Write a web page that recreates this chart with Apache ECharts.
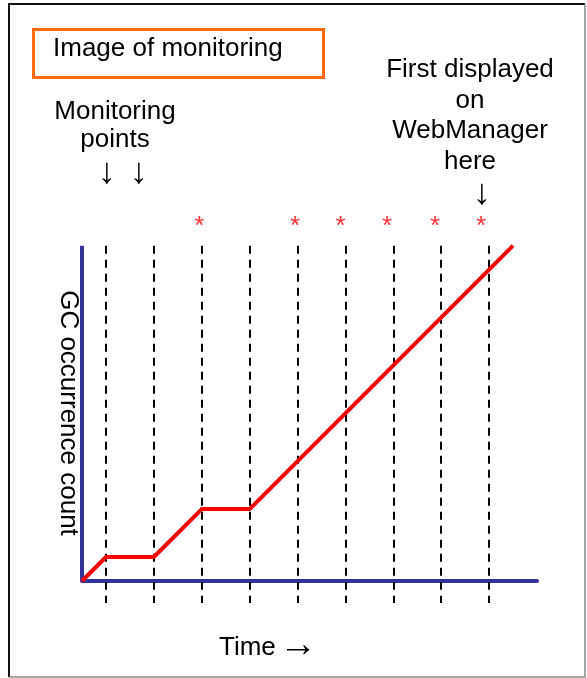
<!DOCTYPE html>
<html>
<head>
<meta charset="utf-8">
<script src="https://cdn.jsdelivr.net/npm/echarts@6/dist/echarts.min.js"></script>
<style>
html,body{margin:0;padding:0;background:#fff;}
#chart{width:587px;height:678px;}
</style>
</head>
<body>
<div id="chart"></div>
<script>
// ---- data ----
const timeMin = 0, timeMax = 9.5;          // x range (units of monitoring interval)
const countMin = -0.46, countMax = 7.62;   // y range
const axisTop = 7;                          // top of drawn y axis
const monitoringX = [0.5, 1.5, 2.5, 3.5, 4.5, 5.5, 6.5, 7.5, 8.5];
const dashBottom = -0.46;
const gcX = [0, 0.5, 1.5, 2.5, 3.5, 9];
const gcY = [0, 0.5, 0.5, 1.5, 1.5, 7];
const starX = [2.45, 4.45, 5.4, 6.37, 7.37, 8.33];
const starY = [7.5, 7.5, 7.5, 7.5, 7.5, 7.5];

const titleText = 'Image of monitoring';
const pointsText = ['Monitoring', 'points'];
const firstText = ['First displayed', 'on', 'WebManager', 'here'];
const yTitle = 'GC occurrence count';
const xTitle = 'Time';

const FONT = "'Liberation Sans', Arial, sans-serif";
const chart = echarts.init(document.getElementById('chart'), null, {renderer: 'canvas'});

const gcData = gcX.map((x, i) => [x, gcY[i]]);
const starData = starX.map((x, i) => [x, starY[i]]);
const dashLines = monitoringX.map(x => [{coord: [x, axisTop]}, {coord: [x, dashBottom]}]);

function txt(text, x, y, align, extra, size) {
  return Object.assign({
    type: 'text', x: x, y: y,
    style: {text: text, font: (size || 26) + 'px ' + FONT, fill: '#000', align: align || 'center', verticalAlign: 'middle'}
  }, extra || {});
}

const option = {
  animation: false,
  backgroundColor: '#fff',
  grid: {left: 82, top: 216, width: 455, height: 387},
  xAxis: {
    type: 'value', min: timeMin, max: timeMax,
    axisLine: {show: true, onZero: true, lineStyle: {color: '#333399', width: 4}},
    axisTick: {show: false}, axisLabel: {show: false}, splitLine: {show: false}
  },
  yAxis: {
    type: 'value', min: countMin, max: countMax,
    axisLine: {show: false}, axisTick: {show: false}, axisLabel: {show: false}, splitLine: {show: false}
  },
  series: [
    {
      type: 'line', data: [[0, 0], [0, axisTop]], symbol: 'none', z: 2,
      lineStyle: {color: '#333399', width: 4}, silent: true,
      markLine: {
        silent: true, symbol: ['none', 'none'], label: {show: false},
        lineStyle: {color: '#000', width: 2, type: [8, 6]},
        data: dashLines, z: 3
      }
    },
    {
      type: 'line', data: gcData, symbol: 'none', z: 5,
      lineStyle: {color: '#ff0000', width: 4, join: 'round'}
    },
    {
      type: 'scatter', data: starData, symbolSize: 0, z: 5,
      label: {show: true, position: 'inside', formatter: '*', color: '#ff0000',
        fontSize: 26, fontFamily: FONT, offset: [0, 5]}
    }
  ],
  graphic: [
    {type: 'polyline', shape: {points: [[9, 677], [9, 4], [585, 4]]}, style: {stroke: '#111', lineWidth: 2, fill: null}},
    {type: 'polyline', shape: {points: [[585, 4], [585, 677], [9, 677]]}, style: {stroke: '#888', lineWidth: 1.5, fill: null}},
    {type: 'rect', shape: {x: 33.5, y: 29.5, width: 290, height: 48}, style: {stroke: '#ff6a10', lineWidth: 3, fill: null}},
    txt(titleText, 53, 49, 'left'),
    txt(pointsText[0], 115, 112),
    txt(pointsText[1], 115, 140),
    txt('\u2193', 107, 173, 'center', null, 36),
    txt('\u2193', 139, 173, 'center', null, 36),
    txt(firstText[0], 470, 70),
    txt(firstText[1], 470, 101),
    txt(firstText[2], 470, 131),
    txt(firstText[3], 470, 162),
    txt('\u2193', 482, 194, 'center', null, 36),
    txt(yTitle, 68, 413, 'center', {rotation: -Math.PI / 2}),
    txt(xTitle, 219, 648, 'left'),
    txt('\u2192', 298, 646, 'center', null, 38)
  ]
};
chart.setOption(option);
</script>
</body>
</html>
